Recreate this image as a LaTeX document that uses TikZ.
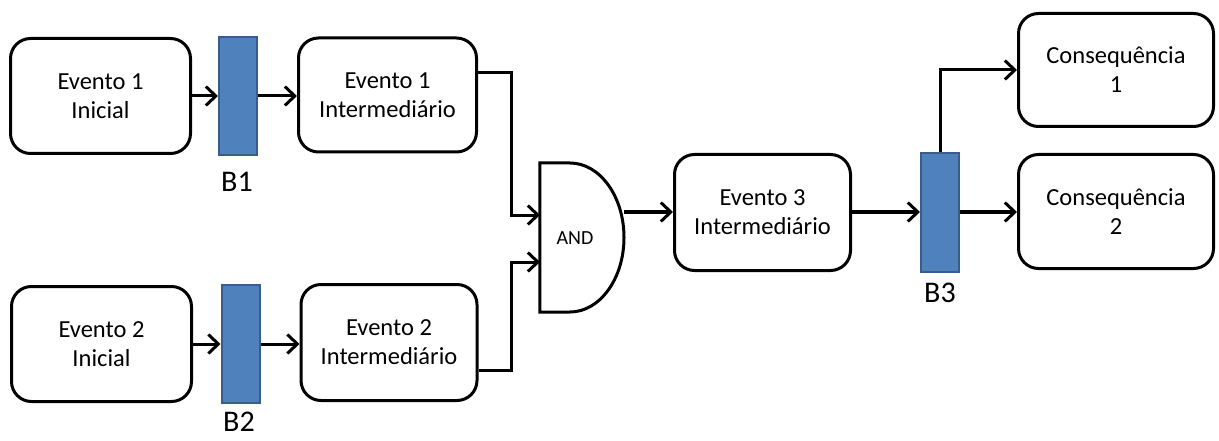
\documentclass[tikz,border=0pt]{standalone}
\usepackage{fontspec}
\setmainfont{Carlito}
\usetikzlibrary{arrows.meta}
\definecolor{barfill}{HTML}{4F81BD}
\definecolor{barline}{HTML}{385D8A}
\begin{document}
\begin{tikzpicture}[x=1pt,y=-1pt,
  event/.style={draw=black,line width=3pt,rounded corners=20pt,fill=white,
    align=center,inner sep=0pt,font=\fontsize{24.5}{29}\selectfont},
  barrier/.style={draw=barline,line width=2pt,fill=barfill,inner sep=0pt,
    minimum width=38pt,minimum height=118pt},
  blabel/.style={font=\fontsize{30}{33}\selectfont,inner sep=0pt},
  flow/.style={line width=3pt,-{Straight Barb[length=10pt,width=19pt,line width=3pt]}}]
\useasboundingbox (0,0) rectangle (1219,441);

% initial and intermediate events
\node[event,minimum width=180pt,minimum height=115pt] (e1i) at (100.5,96) {Evento 1\\Inicial};
\node[event,minimum width=178pt,minimum height=114pt] (e1m) at (387.5,95) {Evento 1\\Intermediário};
\node[event,minimum width=180pt,minimum height=115pt] (e2i) at (101.5,344) {Evento 2\\Inicial};
\node[event,minimum width=176pt,minimum height=116pt] (e2m) at (389,342.5) {Evento 2\\Intermediário};
\node[event,minimum width=176pt,minimum height=116pt] (e3m) at (762.5,212.5) {Evento 3\\Intermediário};
\node[event,minimum width=195pt,minimum height=113pt] (c1) at (1116,70) {Consequência\\1};
\node[event,minimum width=195pt,minimum height=114pt] (c2) at (1116,211.5) {Consequência\\2};

% barriers
\node[barrier] (b1) at (238,96) {};
\node[barrier] (b2) at (240.5,344) {};
\node[barrier,minimum height=119pt] (b3) at (940,212.5) {};
\node[blabel] (lb1) at (237,182) {B1};
\node[blabel] (lb2) at (239,422) {B2};
\node[blabel] (lb3) at (940,293) {B3};

% AND gate
\node[inner sep=0pt,minimum width=84pt,minimum height=149pt] (and) at (582,237.5) {};
\draw[line width=3pt,fill=white] (and.north west) -- (570,163)
  .. controls (599.8,163) and (624,196.4) .. (624,237.5)
  .. controls (624,278.6) and (599.8,312) .. (570,312)
  -- (and.south west) -- cycle;
\node[font=\fontsize{20}{24}\selectfont,inner sep=0pt] (andtxt) at (575,238) {AND};
\coordinate (andin1) at (540,215);
\coordinate (andin2) at (540,262);
\coordinate (andout) at (624,212);
\coordinate (j1) at (511,73);
\coordinate (j2) at (511,370);

% connectors
\draw[flow] (e1i.east) -- (b1.west);
\draw[flow] (b1.east) -- (b1.east -| e1m.west);
\draw[flow] (e2i.east) -- (b2.west);
\draw[flow] (b2.east) -- (b2.east -| e2m.west);
\draw[flow] ([yshift=22pt]e1m.east) -- (j1) |- (andin1);
\draw[flow] ([yshift=-27.5pt]e2m.east) -- (j2) |- (andin2);
\draw[flow] (andout) -- (andout -| e3m.west);
\draw[flow] (e3m.east |- andout) -- (andout -| b3.west);
\draw[flow] (b3.east |- andout) -- (andout -| c2.west);
\draw[flow] (b3.north) |- (c1.west);
\end{tikzpicture}
\end{document}
